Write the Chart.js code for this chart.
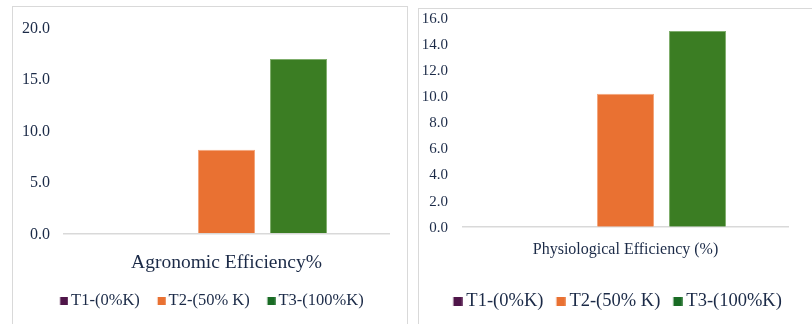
<!DOCTYPE html>
<html>
<head>
<meta charset="utf-8">
<script src="https://cdn.jsdelivr.net/npm/chart.js@4.4.1/dist/chart.umd.min.js"></script>
<style>
  html, body { margin: 0; padding: 0; background: #ffffff; }
  body { width: 812px; height: 324px; position: relative; overflow: hidden; }
  .panel { position: absolute; border: 1px solid #d9d9d9; box-sizing: border-box; }
  #p1 { left: 12px; top: 6px; width: 396px; height: 330px; }
  #p2 { left: 418px; top: 8px; width: 410px; height: 330px; }
  canvas { position: absolute; top: 0; }
  #c1 { left: 0; }
  #c2 { left: 410px; }
</style>
</head>
<body>
<div class="panel" id="p1"></div>
<div class="panel" id="p2"></div>
<canvas id="c1" width="410" height="324"></canvas>
<canvas id="c2" width="420" height="324"></canvas>
<script>
// Treatments (one bar series each) and the two efficiency measures
const treatments = ['T1-(0%K)', 'T2-(50% K)', 'T3-(100%K)'];
const agronomicCategory = ['Agronomic Efficiency%'];
const physiologicalCategory = ['Physiological Efficiency (%)'];
const agronomicValues = [0, 8.1, 16.9];
const physiologicalValues = [0, 10.2, 15.0];

const fillColors = ['#4F1549', '#E97132', '#3B7D23'];
const edgeColors = ['#4F1549', '#F3A67C', '#7FAE6C'];
const legendColors = ['#4F1549', '#E97132', '#196B24'];
const textColor = '#1B2A47';
const serif = "'Liberation Serif', 'Times New Roman', serif";

// Small square legend marker. The legend centres a point-style image half a
// pixel right of each item's start and puts the text fontSize/2 after it, so
// the square is drawn off-centre inside the image to sit `gap` px before the text.
function legendSwatch(color, size, gap, fontSize) {
  const styleWidth = 1;
  const left = styleWidth + fontSize / 2 - gap - size;
  const half = Math.max(left + size - styleWidth / 2, styleWidth / 2 - left);
  const w = Math.ceil(2 * half);
  const c = document.createElement('canvas');
  c.width = w;
  c.height = size;
  const g = c.getContext('2d');
  g.fillStyle = color;
  g.fillRect(left - (styleWidth / 2 - w / 2), 0, size, size);
  return c;
}

function buildDatasets(values) {
  return treatments.map((name, i) => ({
    label: name,
    data: [values[i]],
    backgroundColor: fillColors[i],
    borderColor: edgeColors[i],
    borderWidth: values[i] > 0 ? 1 : 0,
    categoryPercentage: 0.665,
    barPercentage: 0.792
  }));
}

function makeChart(id, category, values, cfg) {
  const swatches = legendColors.map(c => legendSwatch(c, cfg.box, cfg.boxGap, cfg.legendSize));
  return new Chart(document.getElementById(id), {
    type: 'bar',
    data: { labels: category, datasets: buildDatasets(values) },
    options: {
      responsive: false,
      animation: false,
      events: [],
      layout: { padding: cfg.padding },
      plugins: {
        tooltip: { enabled: false },
        legend: {
          position: 'bottom',
          labels: {
            color: textColor,
            font: { family: serif, size: cfg.legendSize },
            usePointStyle: true,
            pointStyleWidth: 1,
            boxHeight: cfg.box,
            padding: cfg.legendPadding,
            generateLabels: chart => chart.data.datasets.map((ds, i) => ({
              text: ds.label,
              fillStyle: legendColors[i],
              strokeStyle: legendColors[i],
              pointStyle: swatches[i],
              lineWidth: 0,
              fontColor: textColor,
              hidden: false,
              datasetIndex: i
            }))
          }
        }
      },
      scales: {
        x: {
          grid: { display: false, drawTicks: false },
          border: { display: true, color: '#d9d9d9', width: 1.5 },
          ticks: {
            color: textColor,
            font: { family: serif, size: cfg.catSize },
            padding: cfg.catPadding,
            maxRotation: 0
          },
          afterFit: s => { s.height = cfg.xHeight; }
        },
        y: {
          min: 0,
          max: cfg.max,
          grid: { display: false, drawTicks: false },
          border: { display: false },
          ticks: {
            stepSize: cfg.step,
            color: textColor,
            font: { family: serif, size: cfg.tickSize },
            padding: cfg.tickPadding,
            labelOffset: cfg.tickOffset,
            callback: v => Number(v).toFixed(1)
          },
          afterFit: s => { s.width = cfg.yWidth; s.paddingTop = 8; s.paddingBottom = 8; }
        },
        // empty right-hand gutter so the legend can run wider than the plot
        gutter: {
          type: 'linear',
          position: 'right',
          grid: { display: false, drawTicks: false },
          border: { display: false },
          ticks: { display: false },
          afterFit: s => { s.width = cfg.gutter; }
        }
      }
    }
  });
}

makeChart('c1', agronomicCategory, agronomicValues, {
  padding: { left: 17.5, right: 2, top: 27, bottom: 4.75 },
  max: 20, step: 5,
  tickSize: 16, tickPadding: 14, tickOffset: 1.5, yWidth: 46.5, gutter: 19,
  catSize: 19.5, catPadding: 18, xHeight: 40,
  legendSize: 16.5, box: 8, boxGap: 3, legendPadding: 19.5
});

makeChart('c2', physiologicalCategory, physiologicalValues, {
  padding: { left: 0, right: 2, top: 18, bottom: 3.75 },
  max: 16, step: 2,
  tickSize: 15, tickPadding: 15, tickOffset: 1, yWidth: 53, gutter: 40,
  catSize: 16, catPadding: 13, xHeight: 49.3,
  legendSize: 18.5, box: 9, boxGap: 4, legendPadding: 15.75
});
</script>
</body>
</html>
